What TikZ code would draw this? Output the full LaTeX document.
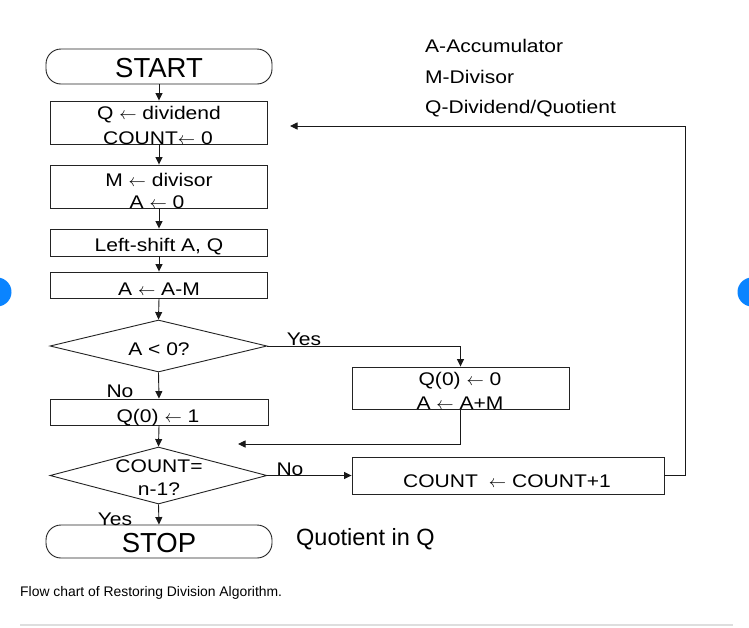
\documentclass[tikz,border=0pt]{standalone}
\usepackage{fontspec}
\setmainfont{Liberation Sans}
\newfontfamily\dfont[FakeStretch=1.15]{Liberation Sans}
\usetikzlibrary{arrows.meta,shapes.geometric}
\definecolor{uiblue}{RGB}{10,132,255}
\definecolor{lineclr}{RGB}{25,25,25}
\definecolor{boxclr}{RGB}{35,35,35}
\definecolor{rulegray}{RGB}{222,222,222}
\begin{document}
\begin{tikzpicture}[x=1pt,y=-1pt,
  box/.style={draw=boxclr,line width=0.9pt,minimum width=217pt,inner sep=0pt},
  term/.style={draw=boxclr,line width=0.9pt,rounded corners=15pt,minimum width=226pt,inner sep=0pt},
  dia/.style={draw=boxclr,line width=0.9pt,diamond,minimum width=217pt,inner sep=0pt},
  txt/.style={font=\dfont\fontsize{18.3}{20}\selectfont,inner sep=0pt,anchor=base},
  big/.style={font=\fontsize{27.5}{30}\selectfont,inner sep=0pt,anchor=base},
  plain/.style={font=\fontsize{23.5}{26}\selectfont,inner sep=0pt,anchor=base west},
  conn/.style={draw=lineclr,line width=0.9pt,-{Triangle[length=7.5pt,width=7pt]}},
]
\useasboundingbox (0,0) rectangle (749,627);
\fill[white] (0,0) rectangle (749,627);

% UI buttons at the edges
\fill[uiblue] (-3,292) circle (14.5);
\fill[uiblue] (752,292) circle (14.5);

% shapes
\node[term,minimum height=35pt] (start) at (159,66.5) {};
\node[box,minimum height=43pt] (b1) at (159,122.5) {};
\node[box,minimum height=43pt] (b2) at (159,186.5) {};
\node[box,minimum height=27pt] (b3) at (159,242.5) {};
\node[box,minimum height=26pt] (b4) at (159,285) {};
\node[dia,minimum height=52pt] (d1) at (158.5,346) {};
\node[box,minimum height=26pt,minimum width=218pt] (b5) at (159,412) {};
\node[dia,minimum height=57pt] (d2) at (158.5,475.5) {};
\node[term,minimum height=33pt] (stop) at (159,541.5) {};
\node[box,minimum height=42pt] (b6) at (460.5,388) {};
\node[box,minimum height=37pt,minimum width=312pt] (b7) at (508,475.5) {};

% texts
\node[big] (tstart) at (159,77) {START};
\node[txt] (t1a) at (159,119) {Q $\leftarrow$ dividend};
\node[txt] (t1b) at (158,144) {COUNT$\leftarrow$ 0};
\node[txt] (t2a) at (159,186) {M $\leftarrow$ divisor};
\node[txt] (t2b) at (157,208) {A $\leftarrow$ 0};
\node[txt] (t3) at (159,251) {Left-shift A, Q};
\node[txt] (t4) at (159,295) {A $\leftarrow$ A-M};
\node[txt] (td1) at (159,355) {A < 0?};
\node[txt] (t5) at (158,422) {Q(0) $\leftarrow$ 1};
\node[txt] (td2a) at (159,472) {COUNT=};
\node[txt] (td2b) at (159,495) {n-1?};
\node[big] (tstop) at (159,552) {STOP};
\node[txt] (t6a) at (460,385) {Q(0) $\leftarrow$ 0};
\node[txt] (t6b) at (460,409) {A $\leftarrow$ A+M};
\node[txt] (t7) at (507,487) {COUNT\hspace{11pt}$\leftarrow$ COUNT+1};

% branch labels
\node[txt] (lno1) at (120,397) {No};
\node[txt] (lyes2) at (115,525) {Yes};
\node[txt] (lyes1) at (304,345) {Yes};
\node[txt] (lno2) at (290,475) {No};

% legend and notes
\node[txt,anchor=base west] (lg1) at (425,52) {A-Accumulator};
\node[txt,anchor=base west] (lg2) at (425,83) {M-Divisor};
\node[txt,anchor=base west] (lg3) at (425,113) {Q-Dividend/Quotient};
\node[plain] (quot) at (296,545) {Quotient in Q};
\node[font=\fontsize{13.9}{16}\selectfont,inner sep=0pt,anchor=base west] (cap) at (20,596) {Flow chart of Restoring Division Algorithm.};
\draw[rulegray,line width=1.2pt] (20,625) -- (733,625);

% connectors
\coordinate (m1) at (238,444);
\coordinate (m2) at (290,126);
\coordinate (c1) at (685,475.5);
\draw[conn] (start.south) -- (b1.north);
\draw[conn] (b1.south) -- (b2.north);
\draw[conn] (b2.south) -- (b3.north);
\draw[conn] (b3.south) -- (b4.north);
\draw[conn] (b4.south) -- (d1.north);
\draw[conn] (d1.south) -- (b5.north);
\draw[conn] (b5.south) -- (d2.north);
\draw[conn] (d2.south) -- (stop.north);
\draw[conn] (d1.east) -| (b6.north);
\draw[conn] (b6.south) |- (m1);
\draw[conn] (d2.east) -- (b7.west);
\draw[conn] (b7.east) -- (c1) |- (m2);
\end{tikzpicture}
\end{document}
